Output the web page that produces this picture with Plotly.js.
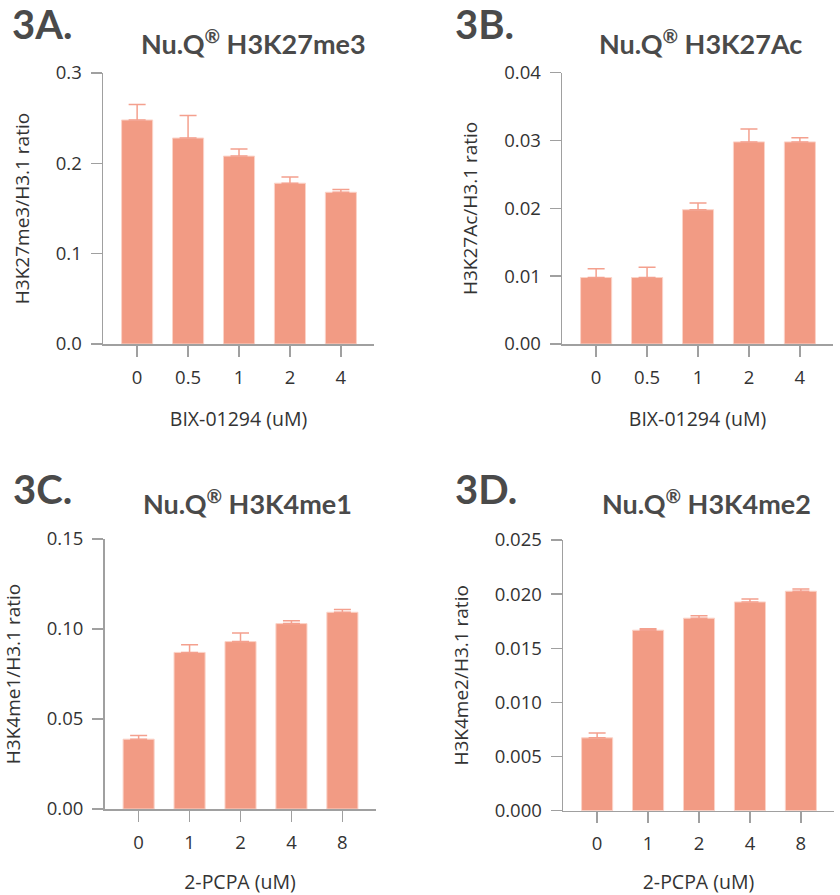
<!DOCTYPE html>
<html>
<head>
<meta charset="utf-8">
<script src="https://cdn.plot.ly/plotly-3.0.1.min.js"></script>
<style>html,body{margin:0;padding:0;background:#fff;}#chart{width:840px;height:895px;}</style>
</head>
<body>
<div id="chart"></div>
<script>
// Categories (concentrations)
const catBIX = ['0', '0.5', '1', '2', '4'];
const catPCPA = ['0', '1', '2', '4', '8'];

// 3A: H3K27me3/H3.1 ratio
const valA = [0.248, 0.228, 0.208, 0.178, 0.168];
const errA = [0.017, 0.025, 0.008, 0.007, 0.003];
// 3B: H3K27Ac/H3.1 ratio
const valB = [0.0098, 0.0098, 0.0198, 0.0298, 0.0298];
const errB = [0.0013, 0.0015, 0.0010, 0.0019, 0.0006];
// 3C: H3K4me1/H3.1 ratio
const valC = [0.0388, 0.0870, 0.0930, 0.1030, 0.1093];
const errC = [0.0020, 0.0043, 0.0048, 0.0016, 0.0015];
// 3D: H3K4me2/H3.1 ratio
const valD = [0.00673, 0.01667, 0.01778, 0.01928, 0.02027];
const errD = [0.00044, 0.00013, 0.00022, 0.00028, 0.00021];

const panelLabels = ['3A.', '3B.', '3C.', '3D.'];
const panelTitles = ['Nu.Q<sup>®</sup> H3K27me3', 'Nu.Q<sup>®</sup> H3K27Ac', 'Nu.Q<sup>®</sup> H3K4me1', 'Nu.Q<sup>®</sup> H3K4me2'];
const yTitles = ['H3K27me3/H3.1 ratio', 'H3K27Ac/H3.1 ratio', 'H3K4me1/H3.1 ratio', 'H3K4me2/H3.1 ratio'];
const xTitles = ['BIX-01294 (uM)', 'BIX-01294 (uM)', '2-PCPA (uM)', '2-PCPA (uM)'];

const BAR = '#f29b84';
const BAR_LINE = '#fbd3c8';
const ERR = '#f4a08e';
const AXIS = '#a0a0a0';
const TXT = '#333333';
const HEAD = '#4a4a4a';
const FONT = '"Open Sans", "Noto Sans", sans-serif';
const HFONT = 'Lato, "Open Sans", sans-serif';

function barTrace(cats, vals, errs, n) {
  return {
    type: 'bar', x: cats, y: vals,
    xaxis: 'x' + (n === 1 ? '' : n), yaxis: 'y' + (n === 1 ? '' : n),
    marker: {color: BAR, line: {color: BAR_LINE, width: 1}},
    width: 0.61,
    error_y: {type: 'data', symmetric: false, array: errs, arrayminus: errs.map(() => 0),
              color: ERR, thickness: 1.5, width: 8.5},
    hoverinfo: 'skip', showlegend: false
  };
}

const W = 840, H = 895;
function dom(a, b) { return [a / W, b / W]; }
function vdom(top, bottom) { return [1 - bottom / H, 1 - top / H]; }

function xaxis(domain, anchor, title) {
  return {
    domain: domain, anchor: anchor, type: 'category', range: [-0.67, 4.65],
    showline: true, linecolor: AXIS, linewidth: 1.5, mirror: false,
    ticks: 'outside', ticklen: 11, tickwidth: 1.5, tickcolor: AXIS,
    showgrid: false, zeroline: false, ticklabelstandoff: 5,
    tickfont: {family: FONT, size: 18.5, color: TXT},
    title: {text: title, font: {family: FONT, size: 19.5, color: TXT}, standoff: 24}
  };
}
function yaxis(domain, anchor, range, dtick, fmt, title) {
  return {
    domain: domain, anchor: anchor, range: range, dtick: dtick, tick0: 0, tickformat: fmt,
    showline: true, linecolor: AXIS, linewidth: 1.5,
    ticks: 'outside', ticklen: 11, tickwidth: 1.5, tickcolor: AXIS,
    showgrid: false, zeroline: false, ticklabelstandoff: 5,
    tickfont: {family: FONT, size: 18.5, color: TXT},
    title: {text: title, font: {family: FONT, size: 19, color: TXT}, standoff: 21}
  };
}

const data = [
  barTrace(catBIX, valA, errA, 1),
  barTrace(catBIX, valB, errB, 2),
  barTrace(catPCPA, valC, errC, 3),
  barTrace(catPCPA, valD, errD, 4)
];

const layout = {
  width: W, height: H,
  margin: {l: 0, r: 0, t: 0, b: 0},
  paper_bgcolor: '#ffffff', plot_bgcolor: '#ffffff',
  bargap: 0.39,
  xaxis: xaxis(dom(103, 374), 'y', xTitles[0]),
  yaxis: yaxis(vdom(73, 344), 'x', [0, 0.3], 0.1, '.1f', yTitles[0]),
  xaxis2: xaxis(dom(562, 833), 'y2', xTitles[1]),
  yaxis2: yaxis(vdom(72.7, 344), 'x2', [0, 0.04], 0.01, '.2f', yTitles[1]),
  xaxis3: xaxis(dom(104.5, 375.5), 'y3', xTitles[2]),
  yaxis3: yaxis(vdom(539, 809), 'x3', [0, 0.15], 0.05, '.2f', yTitles[2]),
  xaxis4: xaxis(dom(563, 834), 'y4', xTitles[3]),
  yaxis4: yaxis(vdom(540, 810.7), 'x4', [0, 0.025], 0.005, '.3f', yTitles[3]),
  annotations: [
    {text: panelLabels[0], x: 42 / W, y: 1 - 24 / H},
    {text: panelLabels[1], x: 485 / W, y: 1 - 24 / H},
    {text: panelLabels[2], x: 42 / W, y: 1 - 489 / H},
    {text: panelLabels[3], x: 486 / W, y: 1 - 489 / H}
  ].map(a => Object.assign(a, {xref: 'paper', yref: 'paper', xanchor: 'center', yanchor: 'middle',
      showarrow: false, font: {family: HFONT, size: 40, color: HEAD, weight: 'bold'}})).concat([
    {text: panelTitles[0], x: 254 / W, y: 1 - 42 / H},
    {text: panelTitles[1], x: 700 / W, y: 1 - 42 / H},
    {text: panelTitles[2], x: 247 / W, y: 1 - 502 / H},
    {text: panelTitles[3], x: 706 / W, y: 1 - 502 / H}
  ].map(a => Object.assign(a, {xref: 'paper', yref: 'paper', xanchor: 'center', yanchor: 'middle',
      showarrow: false, font: {family: HFONT, size: 27, color: HEAD, weight: 'bold'}})))
};

Plotly.newPlot('chart', data, layout, {staticPlot: true, displayModeBar: false});
</script>
</body>
</html>
